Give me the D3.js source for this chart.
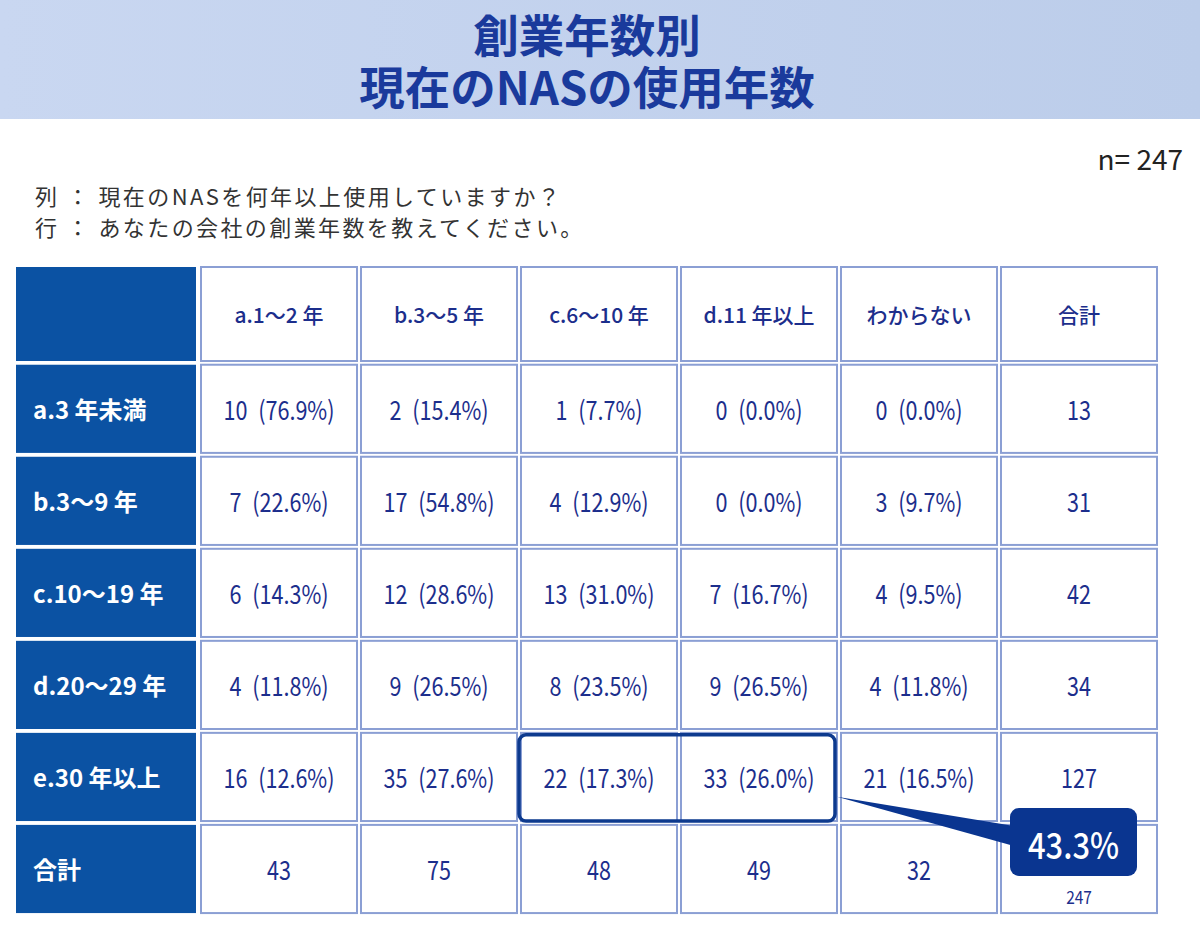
<!DOCTYPE html>
<html>
<head>
<meta charset="utf-8">
<script src="https://cdn.jsdelivr.net/npm/d3@7"></script>
<style>
  body { margin: 0; background: #fff; }
  svg { display: block; font-family: "Noto Sans CJK JP", "Noto Sans", sans-serif; }
</style>
</head>
<body>
<div id="chart"></div>
<script>
var titleLines = ['創業年数別', '現在のNASの使用年数'],
    questions = ['列 ： 現在のNASを何年以上使用していますか？', '行 ： あなたの会社の創業年数を教えてください。'],
    sampleLabel = 'n= 247'

var colLabels = ['a.1～2 年', 'b.3～5 年', 'c.6～10 年', 'd.11 年以上', 'わからない', '合計']
var rowLabels = ['a.3 年未満', 'b.3～9 年', 'c.10～19 年', 'd.20～29 年', 'e.30 年以上', '合計']

// counts per row (columns a..d, わからない)
var counts = [
  [10, 2, 1, 0, 0],
  [7, 17, 4, 0, 3],
  [6, 12, 13, 7, 4],
  [4, 9, 8, 9, 4],
  [16, 35, 22, 33, 21]
]
var percents = [
  [76.9, 15.4, 7.7, 0.0, 0.0],
  [22.6, 54.8, 12.9, 0.0, 9.7],
  [14.3, 28.6, 31.0, 16.7, 9.5],
  [11.8, 26.5, 23.5, 26.5, 11.8],
  [12.6, 27.6, 17.3, 26.0, 16.5]
]
var rowTotals = [13, 31, 42, 34, 127]
var colTotals = [43, 75, 48, 49, 32]
var grandTotal = 247

var highlightRow = 4,
    highlightCols = [2, 3],
    highlightValue = '43.3%'

var width = 1200, height = 944,
    navy = '#1c2e8c',
    leftBlue = '#0b52a3',
    calloutBlue = '#0a3590',
    squeeze = 0.83

var svg = d3.select('#chart').append('svg')
  .attr('width', width)
  .attr('height', height)

var defs = svg.append('defs')
var grad = defs.append('linearGradient').attr('id', 'band')
grad.append('stop').attr('offset', '0%').attr('stop-color', '#c9d7f1')
grad.append('stop').attr('offset', '100%').attr('stop-color', '#bccdea')

// title band
svg.append('rect')
  .attr('width', width).attr('height', 119)
  .attr('fill', 'url(#band)')

svg.append('text')
  .attr('text-anchor', 'middle')
  .attr('font-size', 45.5)
  .attr('font-weight', 700)
  .attr('fill', '#1a3a9c')
  .selectAll('tspan')
  .data(titleLines)
  .enter().append('tspan')
  .attr('x', 587)
  .attr('y', function(d, i) { return 53 + i * 52 })
  .text(function(d) { return d })

svg.append('text')
  .attr('x', 1183).attr('y', 158)
  .attr('text-anchor', 'end')
  .attr('dominant-baseline', 'central')
  .attr('font-size', 28)
  .attr('fill', '#222')
  .text(sampleLabel)

svg.selectAll('text.question')
  .data(questions)
  .enter().append('text')
  .attr('class', 'question')
  .attr('x', 35)
  .attr('y', function(d, i) { return 195 + i * 31 })
  .attr('dominant-baseline', 'central')
  .attr('font-size', 22)
  .attr('letter-spacing', 2.4)
  .attr('fill', '#333')
  .text(function(d) { return d })

// scales
var x = d3.scaleBand()
  .domain(d3.range(colLabels.length))
  .range([199, 1159])
  .paddingInner(0.025)
  .paddingOuter(0.0125)

var y = d3.scaleBand()
  .domain(d3.range(rowLabels.length))
  .range([362.8, 915])
  .paddingInner(0.042)
  .paddingOuter(0.021)

var header = {y0: 267, y1: 361}
var leftX0 = 16, leftX1 = 196

// left header column
svg.append('rect')
  .attr('x', leftX0).attr('y', header.y0)
  .attr('width', leftX1 - leftX0).attr('height', header.y1 - header.y0)
  .attr('fill', leftBlue)

var rowHead = svg.selectAll('g.rowhead')
  .data(rowLabels)
  .enter().append('g')
  .attr('class', 'rowhead')

rowHead.append('rect')
  .attr('x', leftX0)
  .attr('y', function(d, i) { return y(i) })
  .attr('width', leftX1 - leftX0)
  .attr('height', y.bandwidth())
  .attr('fill', leftBlue)

rowHead.append('text')
  .attr('x', 33)
  .attr('y', function(d, i) { return y(i) + y.bandwidth() / 2 })
  .attr('dominant-baseline', 'central')
  .attr('font-size', 24)
  .attr('font-weight', 700)
  .attr('fill', '#fff')
  .text(function(d) { return d })

// column header cells
var colHead = svg.selectAll('g.colhead')
  .data(colLabels)
  .enter().append('g')
  .attr('class', 'colhead')

colHead.append('rect')
  .attr('x', function(d, i) { return x(i) })
  .attr('y', header.y0)
  .attr('width', x.bandwidth())
  .attr('height', header.y1 - header.y0)
  .attr('fill', '#fff')
  .attr('stroke', '#8b9fd4')
  .attr('stroke-width', 2)

colHead.append('text')
  .attr('x', function(d, i) { return x(i) + x.bandwidth() / 2 })
  .attr('y', (header.y0 + header.y1) / 2)
  .attr('text-anchor', 'middle')
  .attr('dominant-baseline', 'central')
  .attr('font-size', 21)
  .attr('font-weight', 500)
  .attr('fill', navy)
  .text(function(d) { return d })

// body cells
var cells = []
counts.forEach(function(row, r) {
  row.forEach(function(v, c) {
    cells.push({r: r, c: c, label: v + '\u2002(' + percents[r][c].toFixed(1) + '%)'})
  })
  cells.push({r: r, c: row.length, label: String(rowTotals[r])})
})
colTotals.forEach(function(v, c) {
  cells.push({r: counts.length, c: c, label: String(v)})
})
cells.push({r: counts.length, c: colTotals.length, label: ''})

var cell = svg.selectAll('g.cell')
  .data(cells)
  .enter().append('g')
  .attr('class', 'cell')
  .attr('transform', function(d) { return 'translate(' + x(d.c) + ',' + y(d.r) + ')' })

cell.append('rect')
  .attr('width', x.bandwidth())
  .attr('height', y.bandwidth())
  .attr('fill', '#fff')
  .attr('stroke', '#8b9fd4')
  .attr('stroke-width', 2)

cell.append('text')
  .attr('transform', 'translate(' + (x.bandwidth() / 2) + ',' + (y.bandwidth() / 2) + ') scale(' + squeeze + ',1)')
  .attr('text-anchor', 'middle')
  .attr('dominant-baseline', 'central')
  .attr('font-size', 26)
  .attr('fill', navy)
  .text(function(d) { return d.label })

// highlight outline
var hx0 = x(highlightCols[0]) - 2,
    hx1 = x(highlightCols[highlightCols.length - 1]) + x.bandwidth() - 2,
    hy0 = y(highlightRow) + 2,
    hy1 = y(highlightRow) + y.bandwidth()

svg.append('rect')
  .attr('x', hx0).attr('y', hy0)
  .attr('width', hx1 - hx0).attr('height', hy1 - hy0)
  .attr('rx', 7)
  .attr('fill', 'none')
  .attr('stroke', '#0d3a8e')
  .attr('stroke-width', 3.5)

// callout
var tx = x(colLabels.length - 1) + x.bandwidth() / 2,
    ty = y(rowLabels.length - 1) + y.bandwidth() - 17

var box = {x: 1010, y: 808, w: 127, h: 68}

svg.append('path')
  .attr('d', d3.line()([[hx1 + 2, hy0 + 62], [box.x + 4, box.y + 18], [box.x + 4, box.y + 38]]) + 'Z')
  .attr('fill', calloutBlue)

svg.append('rect')
  .attr('x', box.x).attr('y', box.y)
  .attr('width', box.w).attr('height', box.h)
  .attr('rx', 9)
  .attr('fill', calloutBlue)

svg.append('text')
  .attr('transform', 'translate(' + (box.x + box.w / 2) + ',' + (box.y + box.h / 2 + 1) + ') scale(0.86,1)')
  .attr('text-anchor', 'middle')
  .attr('dominant-baseline', 'central')
  .attr('font-size', 36)
  .attr('font-weight', 500)
  .attr('fill', '#fff')
  .text(highlightValue)

svg.append('text')
  .attr('transform', 'translate(' + tx + ',' + ty + ') scale(0.86,1)')
  .attr('text-anchor', 'middle')
  .attr('dominant-baseline', 'central')
  .attr('font-size', 18)
  .attr('fill', navy)
  .text(grandTotal)
</script>
</body>
</html>
